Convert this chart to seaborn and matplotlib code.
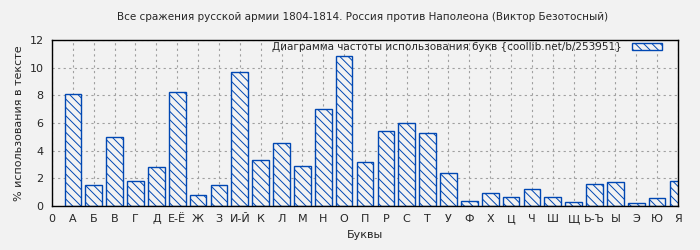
import matplotlib
matplotlib.use("Agg")
import matplotlib.pyplot as plt
import seaborn as sns
import pandas as pd
import numpy as np

letters = ["А", "Б", "В", "Г", "Д", "Е-Ё", "Ж", "З", "И-Й", "К", "Л", "М", "Н", "О",
           "П", "Р", "С", "Т", "У", "Ф", "Х", "Ц", "Ч", "Ш", "Щ", "Ь-Ъ", "Ы", "Э", "Ю", "Я"]
values = [8.07, 1.49, 4.96, 1.78, 2.80, 8.21, 0.77, 1.49, 9.71, 3.30, 4.53, 2.87, 6.98, 10.86,
          3.16, 5.40, 6.00, 5.25, 2.36, 0.34, 0.92, 0.65, 1.23, 0.65, 0.27, 1.57, 1.71, 0.19, 0.58, 1.78]
title = "Все сражения русской армии 1804-1814. Россия против Наполеона (Виктор Безотосный)"
legend_label = "Диаграмма частоты использования букв {coollib.net/b/253951}"

sns.set_style("white")
plt.rcParams["font.family"] = ["DejaVu Sans"]
plt.rcParams["hatch.color"] = "#0047b3"
plt.rcParams["hatch.linewidth"] = 0.7

bg = "#f2f2f2"
blue = "#0047b3"

fig = plt.figure(figsize=(7, 2.5), dpi=100, facecolor=bg)
ax = fig.add_axes([0.0743, 0.176, 0.8943, 0.664])
ax.set_facecolor(bg)

df = pd.DataFrame({"letter": letters, "value": values})
order = ["0"] + letters
sns.barplot(data=df, x="letter", y="value", order=order, ax=ax, width=0.8,
            color=bg, edgecolor=blue, linewidth=1.0, hatch="\\\\\\\\",
            label=legend_label, saturation=1)

ax.set_xlim(0, len(order) - 1)
ax.set_ylim(0, 12)
ax.set_yticks(np.arange(0, 13, 2))
ax.grid(True, color="#a0a0a0", linestyle=(0, (2, 3)), linewidth=0.8)
ax.set_axisbelow(True)
for s in ax.spines.values():
    s.set_color("black")
    s.set_linewidth(1.0)
    s.set_visible(True)
ax.tick_params(axis="both", labelsize=8, length=4, color="black", direction="out", width=1, pad=2)
ax.set_xlabel("Буквы", fontsize=8)
ax.set_ylabel("% использования в тексте", fontsize=8)
fig.suptitle(title, fontsize=7.5, x=0.518, y=0.95)

leg = ax.legend(loc="upper right", frameon=False, markerfirst=False, fontsize=7.5,
                handlelength=2.9, handleheight=0.55, handletextpad=1.0,
                borderaxespad=0.0, borderpad=0.2, bbox_to_anchor=(0.978, 1.0))

fig.savefig("out.png", dpi=100, facecolor=bg)
